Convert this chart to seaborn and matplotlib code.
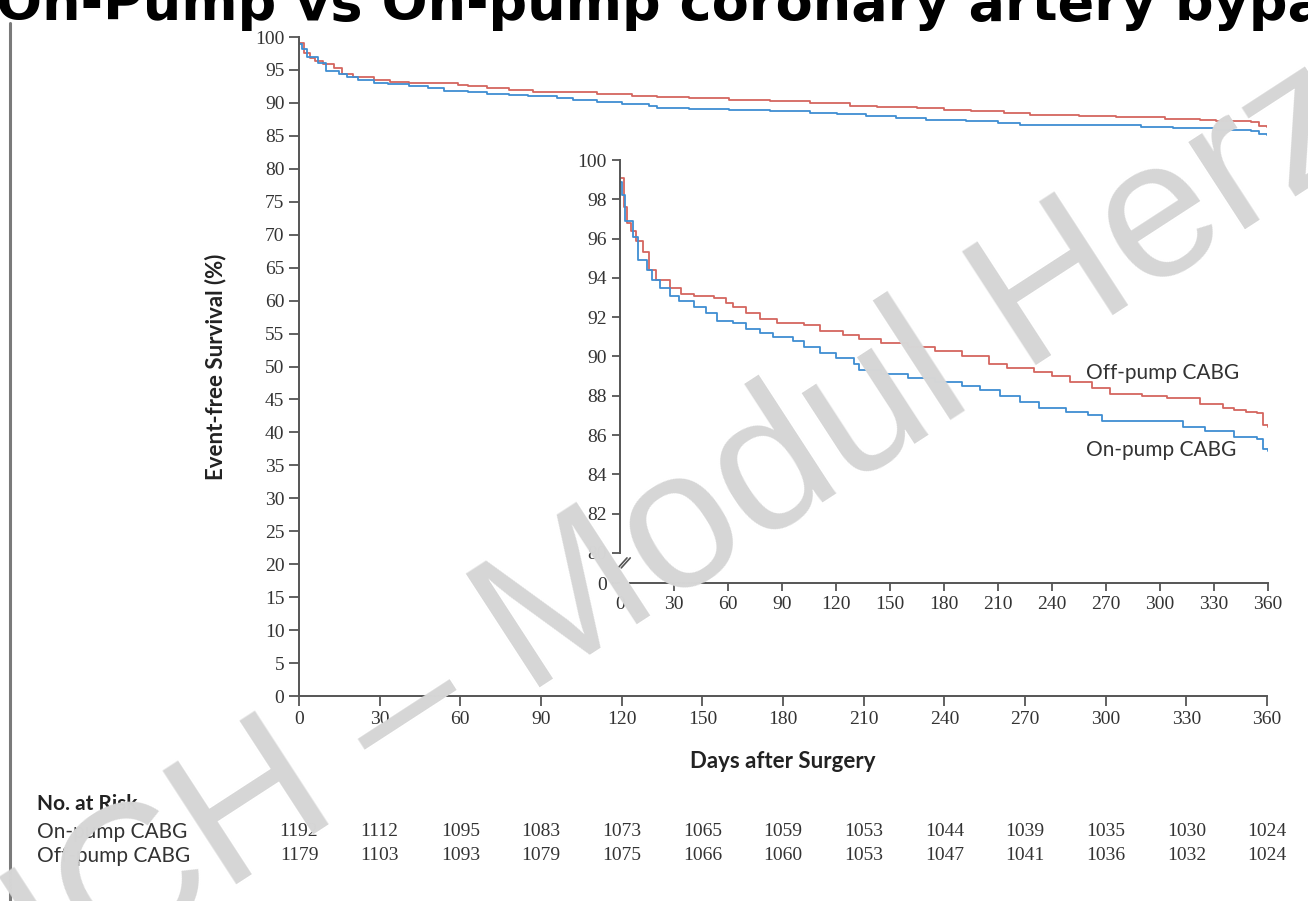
import pandas as pd
import matplotlib
matplotlib.use("Agg")
import matplotlib.pyplot as plt
import matplotlib.transforms as mtransforms
from matplotlib.lines import Line2D
import seaborn as sns

# ===========================
# Data
# ===========================

off_days = [0, 2, 4, 6, 9, 13, 16, 20, 28, 34,
            41, 52, 59, 63, 70, 78, 87, 102, 111, 124,
            133, 145, 160, 175, 190, 205, 215, 230, 240, 250,
            262, 272, 290, 304, 322, 335, 341, 348, 354, 357, 360]
off_surv = [99.1, 97.6, 96.8, 96.4, 95.9, 95.3, 94.4, 93.9, 93.5, 93.2,
            93.1, 93.0, 92.7, 92.5, 92.2, 91.9, 91.7, 91.6, 91.3, 91.1,
            90.9, 90.7, 90.5, 90.3, 90.0, 89.6, 89.4, 89.2, 89.0, 88.7,
            88.4, 88.1, 88.0, 87.9, 87.6, 87.4, 87.3, 87.2, 87.1, 86.5, 86.4]

on_days = [0, 1, 3, 7, 10, 15, 18, 22, 28, 33,
           41, 48, 54, 63, 70, 78, 85, 96, 102, 111,
           120, 130, 133, 145, 160, 175, 190, 200, 211, 222,
           233, 248, 260, 268, 290, 311, 313, 325, 341, 354, 357, 360]
on_surv = [98.9, 98.2, 96.9, 96.1, 94.9, 94.4, 93.9, 93.5, 93.1, 92.8,
           92.5, 92.2, 91.8, 91.7, 91.4, 91.2, 91.0, 90.8, 90.5, 90.2,
           89.9, 89.6, 89.3, 89.1, 88.9, 88.7, 88.5, 88.3, 88.0, 87.7,
           87.4, 87.2, 87.0, 86.7, 86.7, 86.7, 86.4, 86.2, 85.9, 85.8, 85.3, 85.2]

risk_days = [0, 30, 60, 90, 120, 150, 180, 210, 240, 270, 300, 330, 360]
risk_on = [1192, 1112, 1095, 1083, 1073, 1065, 1059, 1053, 1044, 1039, 1035, 1030, 1024]
risk_off = [1179, 1103, 1093, 1079, 1075, 1066, 1060, 1053, 1047, 1041, 1036, 1032, 1024]

off_df = pd.DataFrame({"day": off_days, "surv": off_surv})
on_df = pd.DataFrame({"day": on_days, "surv": on_surv})

RED = "#d4665f"
BLUE = "#3f8ed2"
AXC = "#555555"

# ===========================
# Figure
# ===========================

sns.set_theme(style="white")
plt.rcParams["font.family"] = ["Lato", "DejaVu Sans"]

fig = plt.figure(figsize=(13.08, 9.01), dpi=100)

# main axes
ax = fig.add_axes([0.2286, 0.2275, 0.7401, 0.7314])
for df, c in [(off_df, RED), (on_df, BLUE)]:
    sns.lineplot(data=df, x="day", y="surv", ax=ax, color=c, lw=1.3,
                 drawstyle="steps-post", estimator=None)
ax.set_xlim(0, 360)
ax.set_ylim(0, 100)
ax.set_xticks(risk_days)
ax.set_yticks(range(0, 101, 5))
sns.despine(ax=ax)
for s in ["left", "bottom"]:
    ax.spines[s].set_color(AXC)
    ax.spines[s].set_linewidth(1.4)
ax.tick_params(axis="both", direction="out", length=7, width=1.3, color=AXC,
               labelsize=14, labelcolor="#333333", labelfontfamily="Liberation Serif",
               left=True, bottom=True)
ax.set_ylabel("Event-free Survival (%)", fontsize=16, fontweight="bold", color="#222222")
ax.yaxis.set_label_coords(-0.075, 0.5)
ax.set_xlabel("Days after Surgery", fontsize=16, fontweight="bold", color="#222222")
ax.xaxis.set_label_coords(0.5, -0.083)

# inset axes
ax_in = fig.add_axes([0.4740, 0.3529, 0.4954, 0.4695])
ax_in.patch.set_alpha(0)
for df, c in [(off_df, RED), (on_df, BLUE)]:
    sns.lineplot(data=df, x="day", y="surv", ax=ax_in, color=c, lw=1.3,
                 drawstyle="steps-post", estimator=None)
ax_in.set_xlim(0, 360)
ax_in.set_ylim(78.47, 100)
ax_in.set_xticks(risk_days)
ax_in.set_yticks([78.47] + list(range(80, 101, 2)))
ax_in.set_yticklabels(["0"] + [str(v) for v in range(80, 101, 2)])
sns.despine(ax=ax_in)
for s in ["left", "bottom"]:
    ax_in.spines[s].set_color(AXC)
    ax_in.spines[s].set_linewidth(1.4)
ax_in.spines["left"].set_bounds(80, 100)
ax_in.spines["bottom"].set_bounds(5.5, 360)
ax_in.tick_params(axis="both", direction="out", length=6, width=1.3, color=AXC,
                  labelsize=14, labelcolor="#333333", labelfontfamily="Liberation Serif",
                  left=True, bottom=True)
ax_in.xaxis.get_major_ticks()[0].tick1line.set_visible(False)
ax_in.set_xlabel("")
ax_in.set_ylabel("")
# axis break mark
for dx in [0, 1.8]:
    ax_in.plot([-1.1 + dx, 3.9 + dx], [79.24, 79.75], color=AXC, lw=1.2, clip_on=False)

ax_in.text(259, 89.16, "Off-pump CABG", fontsize=15, color="#333333", va="center")
ax_in.text(259, 85.24, "On-pump CABG", fontsize=15, color="#333333", va="center")

# number at risk
fig.text(0.0283, 1 - 804 / 901, "No. at Risk", fontsize=15, fontweight="bold",
         color="#222222", va="center")
fig.text(0.0283, 1 - 832 / 901, "On-pump CABG", fontsize=15, color="#333333", va="center")
fig.text(0.0283, 1 - 856 / 901, "Off-pump CABG", fontsize=15, color="#333333", va="center")
trans = mtransforms.blended_transform_factory(ax.transData, fig.transFigure)
for d, a, b in zip(risk_days, risk_on, risk_off):
    fig.text(d, 1 - 832 / 901, str(a), transform=trans, ha="center", va="center",
             fontsize=14, family="Liberation Serif", color="#333333")
    fig.text(d, 1 - 856 / 901, str(b), transform=trans, ha="center", va="center",
             fontsize=14, family="Liberation Serif", color="#333333")

# page decorations: title, left rule, watermark
fig.text(-0.003, 1 - 20 / 901, "On-Pump vs On-pump coronary artery bypass",
         fontsize=39, fontweight="bold", family="DejaVu Sans", color="black",
         ha="left", va="baseline")
fig.add_artist(Line2D([0.0076, 0.0076], [0, 0.975], color="#7a7a7a", lw=2.2,
                      transform=fig.transFigure))
fig.text(58 / 1308, 1 - 1000 / 901, "ICH – Modul Herz", fontsize=142,
         family="Liberation Sans", color="#d6d6d6", rotation=33,
         rotation_mode="anchor", ha="left", va="baseline", zorder=10)

fig.savefig("out.png", dpi=100)
plt.close(fig)
